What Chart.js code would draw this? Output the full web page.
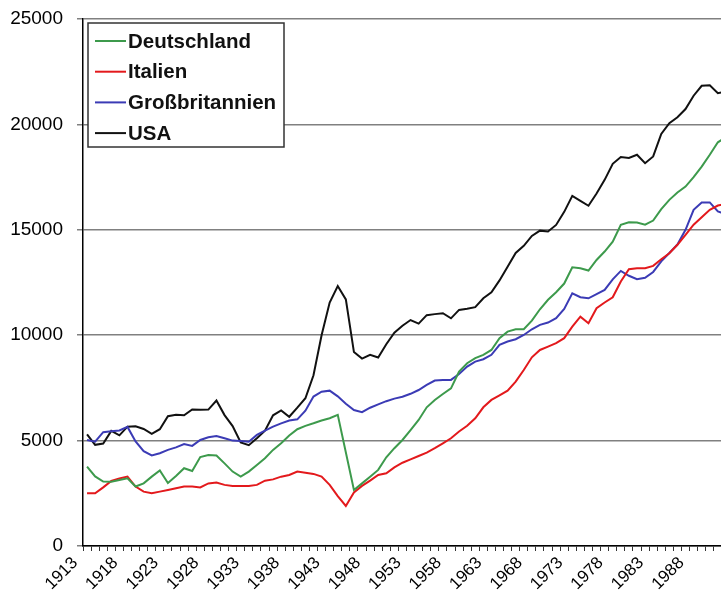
<!DOCTYPE html>
<html lang="de">
<head>
  <meta charset="UTF-8">
  <title>BIP pro Kopf 1913-1992</title>
  <style>
    html, body {
      margin: 0;
      padding: 0;
      overflow: hidden;
      background: #fff;
    }
    .chart-container {
      width: 730px;
      height: 612px;
    }
  </style>
</head>
<body>

<div class="chart-container">
  <canvas id="gdpChart"></canvas>
</div>

<script src="https://cdn.jsdelivr.net/npm/chart.js"></script>
<script>
  const years = [
    1913, 1914, 1915, 1916, 1917, 1918, 1919, 1920, 1921, 1922,
    1923, 1924, 1925, 1926, 1927, 1928, 1929, 1930, 1931, 1932,
    1933, 1934, 1935, 1936, 1937, 1938, 1939, 1940, 1941, 1942,
    1943, 1944, 1945, 1946, 1947, 1948, 1949, 1950, 1951, 1952,
    1953, 1954, 1955, 1956, 1957, 1958, 1959, 1960, 1961, 1962,
    1963, 1964, 1965, 1966, 1967, 1968, 1969, 1970, 1971, 1972,
    1973, 1974, 1975, 1976, 1977, 1978, 1979, 1980, 1981, 1982,
    1983, 1984, 1985, 1986, 1987, 1988, 1989, 1990, 1991, 1992
  ];
  const labelYears = [1913, 1918, 1923, 1928, 1933, 1938, 1943, 1948, 1953, 1958, 1963, 1968, 1973, 1978, 1983, 1988];
  const yTicks = [0, 5000, 10000, 15000, 20000, 25000];

  const deutschland = [
    3770, 3300, 3060, 3050, 3130, 3210, 2820, 2970, 3290, 3580,
    2990, 3320, 3690, 3560, 4220, 4320, 4290, 3920, 3530, 3290,
    3530, 3840, 4160, 4560, 4870, 5240, 5540, 5700, 5820, 5950,
    6060, 6220, null, 2660, 2970, 3290, 3610, 4210, 4640, 5030,
    5500, 5980, 6580, 6930, 7210, 7480, 8270, 8670, 8910, 9070,
    9300, 9860, 10170, 10280, 10280, 10690, 11230, 11680, 12040, 12450,
    13220, 13180, 13070, 13570, 13970, 14440, 15240, 15360, 15350, 15240,
    15440, 15980, 16420, 16770, 17050, 17500, 18000, 18560, 19150, 19400
  ];
  const italien = [
    2500, 2500, 2780, 3090, 3200, 3290, 2820, 2580, 2500, 2580,
    2660, 2740, 2820, 2820, 2780, 2970, 3010, 2900, 2850, 2850,
    2850, 2900, 3100, 3160, 3290, 3370, 3530, 3480, 3420, 3290,
    2900, 2370, 1900, 2540, 2850, 3100, 3370, 3450, 3730, 3950,
    4110, 4270, 4430, 4640, 4870, 5110, 5430, 5700, 6060, 6580,
    6930, 7150, 7370, 7800, 8350, 8950, 9300, 9460, 9620, 9860,
    10410, 10880, 10570, 11280, 11550, 11800, 12550, 13130, 13180, 13180,
    13290, 13600, 13890, 14290, 14760, 15240, 15600, 15950, 16150, 16230
  ];
  const grossbritannien = [
    5030, 4950, 5400, 5440, 5480, 5650, 4960, 4500, 4300, 4400,
    4560, 4680, 4840, 4750, 5030, 5160, 5220, 5110, 5000, 4980,
    4950, 5270, 5470, 5660, 5820, 5950, 6010, 6420, 7090, 7320,
    7370, 7100, 6750, 6450, 6350, 6560, 6720, 6870, 6990, 7080,
    7220, 7400, 7640, 7850, 7880, 7880, 8160, 8510, 8750, 8860,
    9070, 9540, 9700, 9810, 10010, 10280, 10490, 10600, 10810, 11250,
    11990, 11800, 11750, 11950, 12150, 12650, 13050, 12820, 12660, 12720,
    13000, 13500, 13900, 14300, 15000, 15950, 16300, 16300, 15870, 15740
  ];
  const usa = [
    5300, 4800, 4860, 5460, 5250, 5660, 5680, 5550, 5320, 5540,
    6160, 6230, 6200, 6480, 6460, 6470, 6900, 6210, 5690, 4910,
    4780, 5110, 5470, 6200, 6430, 6130, 6560, 7010, 8100, 10000,
    11550, 12330, 11700, 9200, 8890, 9070, 8940, 9570, 10120, 10450,
    10720, 10550, 10950, 11000, 11040, 10800, 11200, 11250, 11330, 11750,
    12030, 12600, 13250, 13900, 14240, 14710, 14960, 14920, 15230, 15850,
    16610, 16370, 16140, 16720, 17370, 18130, 18450, 18410, 18560, 18160,
    18480, 19550, 20060, 20340, 20730, 21360, 21830, 21860, 21480, 21560
  ];

  const FONT = '"Liberation Sans", Arial, sans-serif';

  // legend drawn inside the plot, framed box at top left
  const boxLegend = {
    id: 'boxLegend',
    afterDatasetsDraw(chart) {
      const ctx = chart.ctx;
      const x = 88, y = 23, w = 196, h = 124;
      ctx.save();
      ctx.fillStyle = '#fff';
      ctx.fillRect(x, y, w, h);
      ctx.strokeStyle = '#333';
      ctx.lineWidth = 1.5;
      ctx.strokeRect(x, y, w, h);
      ctx.font = 'bold 20.5px ' + FONT;
      ctx.textBaseline = 'middle';
      chart.data.datasets.forEach((ds, i) => {
        const ry = 41 + i * 30.7;
        ctx.strokeStyle = ds.borderColor;
        ctx.lineWidth = 2;
        ctx.beginPath();
        ctx.moveTo(95, ry);
        ctx.lineTo(126, ry);
        ctx.stroke();
        ctx.fillStyle = '#111';
        ctx.fillText(ds.label, 128, ry + 1);
      });
      ctx.restore();
    }
  };

  const ctx = document.getElementById('gdpChart').getContext('2d');
  const gdpChart = new Chart(ctx, {
    type: 'line',
    data: {
      labels: years,
      datasets: [
        { label: 'Deutschland', data: deutschland, borderColor: '#3d9a4c', spanGaps: true },
        { label: 'Italien', data: italien, borderColor: '#e3191c' },
        { label: 'Großbritannien', data: grossbritannien, borderColor: '#3b3bb5' },
        { label: 'USA', data: usa, borderColor: '#111111' }
      ]
    },
    options: {
      responsive: true,
      maintainAspectRatio: false,
      animation: false,
      layout: { padding: { top: 19, right: 0, left: 0, bottom: 0 } },
      elements: {
        point: { radius: 0 },
        line: { borderWidth: 2, tension: 0, fill: false }
      },
      plugins: {
        legend: { display: false },
        tooltip: { enabled: false }
      },
      scales: {
        x: {
          type: 'category',
          offset: true,
          afterFit: (scale) => {
            scale.height = 66;
            scale.paddingRight = 0;
            scale.paddingLeft = 0;
          },
          grid: {
            offset: true,
            drawOnChartArea: false,
            color: '#333',
            tickLength: 5
          },
          border: { color: '#000', width: 1.5 },
          ticks: {
            autoSkip: false,
            minRotation: 45,
            maxRotation: 45,
            padding: 2,
            labelOffset: -12,
            color: '#000',
            font: { family: FONT, size: 17 },
            callback: function (val, idx) {
              const yr = years[idx];
              return labelYears.includes(yr) ? String(yr) : '';
            }
          }
        },
        y: {
          min: 0,
          max: 25000,
          afterFit: (scale) => {
            scale.width = 83;
            scale.paddingTop = 0;
            scale.paddingBottom = 0;
          },
          afterBuildTicks: (scale) => { scale.ticks = yTicks.map(v => ({ value: v })); },
          grid: {
            color: '#808080',
            lineWidth: 1.5,
            tickLength: 6
          },
          border: { color: '#000', width: 1.5 },
          ticks: {
            padding: 14,
            color: '#000',
            font: { family: FONT, size: 19 },
            callback: (v) => String(v)
          }
        }
      }
    },
    plugins: [boxLegend]
  });
</script>

</body>
</html>
